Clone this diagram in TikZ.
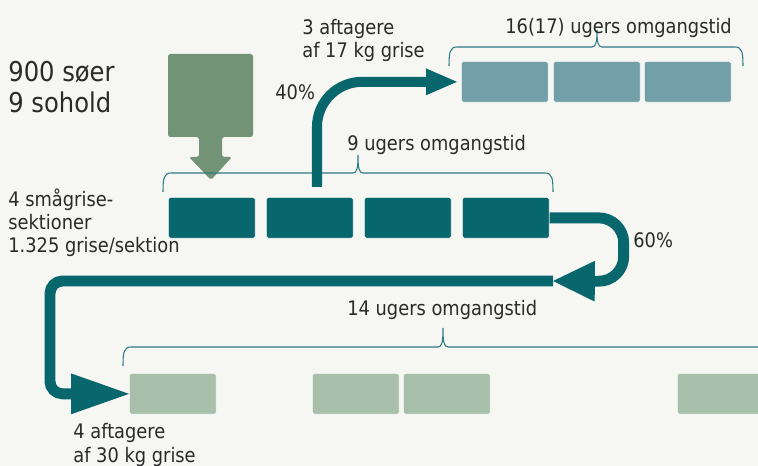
\documentclass[tikz,border=0pt]{standalone}
\usepackage{fontspec}
\setmainfont{DejaVu Sans}[FakeStretch=0.89]
\usetikzlibrary{arrows.meta}
\definecolor{bg}{HTML}{F6F7F3}
\definecolor{petrol}{HTML}{08666D}
\definecolor{steel}{HTML}{73A0A8}
\definecolor{sage}{HTML}{A8C0AB}
\definecolor{moss}{HTML}{739377}
\definecolor{ink}{HTML}{2A2A2A}
\definecolor{brace}{HTML}{2C7A84}

\begin{document}
\begin{tikzpicture}[x=0.02cm,y=-0.02cm]
  \tikzset{
    box/.style={anchor=north west,minimum width=1.74cm,minimum height=.82cm,
        inner sep=0,rounded corners=1pt,draw=white!60!bg,line width=.4pt},
    sect/.style={box,fill=petrol},
    grower/.style={box,fill=steel},
    fin/.style={box,fill=sage},
    lbl/.style={anchor=base west,inner sep=0,text=ink,align=left,
        font=\fontsize{11.4}{13.3}\selectfont},
    bigl/.style={lbl,font=\fontsize{15.5}{18.1}\selectfont},
    flow/.style={draw=petrol,line width=6.2pt},
    brc/.style={draw=brace,line width=.6pt}
  }
  \useasboundingbox (0,0) rectangle (758,466);
  \clip (0,0) rectangle (758,466);
  \fill[bg] (0,0) rectangle (758,466);

  % sections
  \foreach \i/\x in {1/168,2/266,3/364,4/462}
    \node[sect] (s\i) at (\x,197) {};
  \foreach \i/\x in {1/461,2/553,3/644}
    \node[grower] (g\i) at (\x,61) {};
  \foreach \i/\x in {1/129,2/312,3/403,4/677}
    \node[fin] (f\i) at (\x,373) {};

  % input from the sow herds
  \fill[moss,rounded corners=1pt] (168,54) -- (253,54) -- (253,137) -- (222,137)
    -- (222,157) -- (232,157) -- (211,180) -- (189,157) -- (199,157)
    -- (199,137) -- (168,137) -- cycle;

  % brackets
  \foreach \l/\m/\r/\y/\t in {163/358/553/173/155, 449/597/743/47/30}{
      \draw[brc] (\l,{\y+19}) .. controls (\l,{\y+5}) and ({\l+1},\y) .. ({\l+8},\y)
        -- ({\m-5},\y) .. controls ({\m-1},\y) and (\m,{\y-5}) .. (\m,\t)
        .. controls (\m,{\y-5}) and ({\m+1},\y) .. ({\m+5},\y)
        -- ({\r-8},\y) .. controls ({\r-1},\y) and (\r,{\y+5}) .. (\r,{\y+19});
    }
  \draw[brc] (123,366) .. controls (123,352) and (124,347) .. (131,347)
    -- (438,347) .. controls (442,347) and (443,342) .. (443,328)
    .. controls (443,342) and (444,347) .. (448,347) -- (770,347);

  % flows
  \coordinate (up) at (317,187);
  \coordinate (m60) at (553,281);
  \coordinate (bend) at (50,281);
  \draw[flow,line width=5.7pt,rounded corners=.9cm,shorten >=2.3pt,
    -{Triangle[length=17.6pt,width=15.3pt,line width=0pt]}] (up) |- (g1.west);
  \draw[flow,rounded corners=.25cm,
    -{Triangle[length=32.9pt,width=23.2pt,line width=0pt]}] (m60) -- (bend) |- (f1.west);
  \draw[flow,rounded corners=.5cm,
    -{Triangle[length=23.8pt,width=23.2pt,line width=0pt]}]
    (s4.east) -- ++(74,0) -- ++(0,63.5) -- (m60);

  % labels
  \node[bigl] (lsows) at (8,113) {900 søer\\9 sohold};
  \node[lbl] (lsect) at (8,253) {4 smågrise-\\sektioner\\1.325 grise/sektion};
  \node[lbl] (lbuy17) at (302,58) {3 aftagere\\af 17 kg grise};
  \node[lbl] (l40) at (275,100) {40\%};
  \node[lbl] (ltop) at (505,34) {16(17) ugers omgangstid};
  \node[lbl] (lmid) at (347,151) {9 ugers omgangstid};
  \node[lbl] (l60) at (633,248) {60\%};
  \node[lbl] (lbot) at (347,316) {14 ugers omgangstid};
  \node[lbl] (lbuy30) at (73,462) {4 aftagere\\af 30 kg grise};
\end{tikzpicture}
\end{document}
